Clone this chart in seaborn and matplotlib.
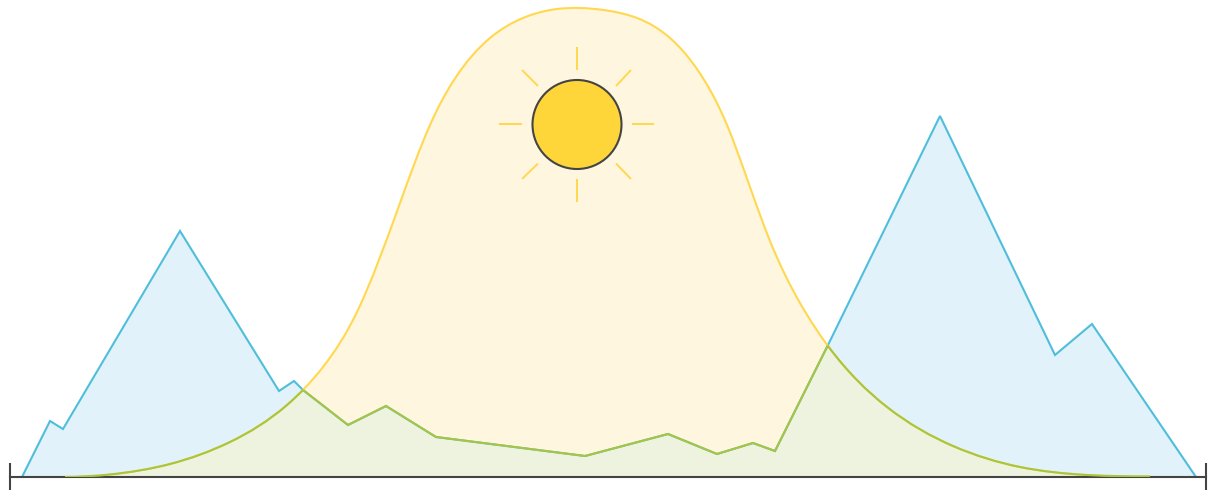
# -*- coding: utf-8 -*-
import matplotlib
matplotlib.use("Agg")
import matplotlib.pyplot as plt
import numpy as np
import seaborn as sns
from matplotlib.patches import Circle, PathPatch, Polygon
from matplotlib.path import Path

# Height above the ground line, position along it (both in picture pixels)
terrain_x = [22, 50, 63, 180, 279, 294, 303, 348, 386, 436, 585, 668, 717, 753, 775, 828, 940, 1055, 1092, 1196]
terrain_y = [0, 56, 48, 246, 86, 96, 87, 52, 71, 40, 21, 43, 23, 34, 26, 132, 361, 122, 153, 0]

daylight_x = [65, 110, 170, 230, 287, 323, 357, 400, 430, 454, 490, 523, 557, 580, 607, 637, 670, 697,
              727, 750, 770, 800, 828, 887, 953, 1020, 1087, 1150]
daylight_y = [0, 2.5, 13, 35, 72, 110, 165, 274, 352, 397, 439, 459, 468, 469, 466.5, 459, 439, 408,
              352, 290, 236, 174, 131, 70, 31, 10, 2, 0.5]

ground_x = [10, 1206]

sun_x = 577
sun_y = 352.5
sun_radius = 44.5
ray_start_x = [577, 577, 522, 632, 522, 631, 522, 631]
ray_start_y = [430, 298, 352.5, 352.5, 407, 407, 298, 298]
ray_end_x = [577, 577, 499, 654, 538, 616, 538, 616]
ray_end_y = [407, 275, 352.5, 352.5, 391, 391, 313.5, 313.5]

BLUE_LINE = "#4FBEDB"
BLUE_FILL = "#E2F2FA"
YELLOW_LINE = "#FFD84F"
YELLOW_FILL = "#FFF6E0"
GREEN_LINE = "#A8C540"
GREEN_FILL = "#EEF3DF"
DARK = "#444444"


def smooth_path(xs, ys):
    # cubic spline through the read points, flat at both ends, drawn as bezier segments
    n = len(xs)
    gaps = np.diff(xs)
    secants = np.diff(ys) / gaps
    A = np.eye(n)
    b = np.zeros(n)
    for i in range(1, n - 1):
        A[i, i - 1] = gaps[i]
        A[i, i] = 2 * (gaps[i - 1] + gaps[i])
        A[i, i + 1] = gaps[i - 1]
        b[i] = 3 * (gaps[i] * secants[i - 1] + gaps[i - 1] * secants[i])
    slopes = np.linalg.solve(A, b)
    verts = [(xs[0], ys[0])]
    codes = [Path.MOVETO]
    for i in range(n - 1):
        dx = gaps[i] / 3
        verts.append((xs[i] + dx, ys[i] + slopes[i] * dx))
        verts.append((xs[i + 1] - dx, ys[i + 1] - slopes[i + 1] * dx))
        verts.append((xs[i + 1], ys[i + 1]))
        codes += [Path.CURVE4, Path.CURVE4, Path.CURVE4]
    return Path(verts, codes)


sns.set_style("white")

fig = plt.figure(figsize=(12.09, 4.9), dpi=100)
ax = fig.add_axes([0, 0, 1, 1])
ax.patch.set_alpha(0)

daylight_path = smooth_path(daylight_x, daylight_y)
terrain_shape = Polygon(list(zip(terrain_x, terrain_y)), closed=True, transform=ax.transData)

ax.fill_between(terrain_x, terrain_y, 0, color=BLUE_FILL, lw=0, zorder=1)
daylight_fill = PathPatch(daylight_path, facecolor=YELLOW_FILL, edgecolor="none", lw=0, zorder=1.1)
ax.add_patch(daylight_fill)
overlap = ax.fill_between(terrain_x, terrain_y, 0, color=GREEN_FILL, lw=0, zorder=1.2)
overlap.set_clip_path(daylight_fill)

sns.lineplot(x=terrain_x, y=terrain_y, sort=False, estimator=None, color=BLUE_LINE, lw=1.5,
             solid_joinstyle="miter", zorder=2, ax=ax)
ax.add_patch(PathPatch(daylight_path, fill=False, edgecolor=YELLOW_LINE, lw=1.5, zorder=2))
sns.lineplot(x=terrain_x, y=terrain_y, sort=False, estimator=None, color=GREEN_LINE, lw=1.5,
             solid_joinstyle="miter", zorder=3, ax=ax)
ax.lines[-1].set_clip_path(daylight_fill)
daylight_green = PathPatch(daylight_path, fill=False, edgecolor=GREEN_LINE, lw=1.5, zorder=3)
ax.add_patch(daylight_green)
daylight_green.set_clip_path(terrain_shape)

# Sun and its rays
for x0, y0, x1, y1 in zip(ray_start_x, ray_start_y, ray_end_x, ray_end_y):
    ax.plot([x0, x1], [y0, y1], color=YELLOW_LINE, lw=1.4, solid_capstyle="butt", zorder=4)
ax.add_patch(Circle((sun_x, sun_y), sun_radius, facecolor="#FFD63A", edgecolor=DARK, lw=1.5, zorder=5))

ax.set_xlim(0, 1209)
ax.set_ylim(-13, 477)
ax.set_aspect("equal")
ax.set_xlabel("")
ax.set_ylabel("")

# Ground line is the real x axis, with a tick at each end
for side in ["top", "left", "right"]:
    ax.spines[side].set_visible(False)
ax.spines["bottom"].set_position(("data", 0))
ax.spines["bottom"].set_bounds(ground_x[0], ground_x[1])
ax.spines["bottom"].set_color(DARK)
ax.spines["bottom"].set_linewidth(1.5)
ax.spines["bottom"].set_zorder(2.5)
ax.set_xticks(ground_x)
ax.set_xticklabels([])
ax.set_yticks([])
ax.tick_params(axis="x", direction="inout", length=20, width=1.5, color=DARK, bottom=True)

fig.savefig("out.png", dpi=100, facecolor="white")
